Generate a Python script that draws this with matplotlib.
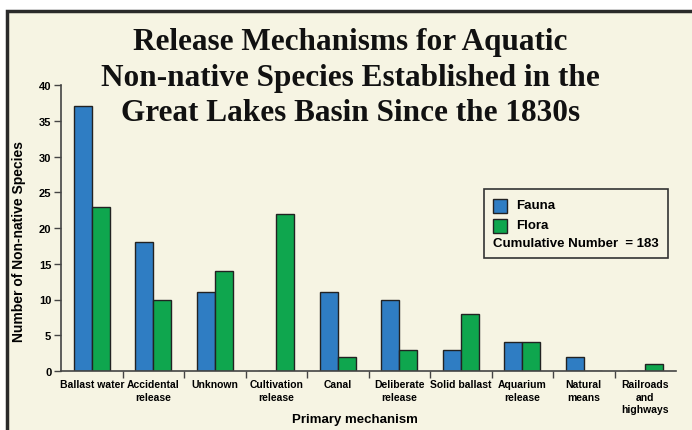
import numpy as np
import matplotlib.pyplot as plt
from matplotlib.patches import Rectangle
from matplotlib.offsetbox import (AnchoredOffsetbox, VPacker, HPacker,
                                  TextArea, DrawingArea)

categories = ["Ballast water", "Accidental\nrelease", "Unknown",
              "Cultivation\nrelease", "Canal", "Deliberate\nrelease",
              "Solid ballast", "Aquarium\nrelease", "Natural\nmeans",
              "Railroads\nand\nhighways"]
fauna = [37, 18, 11, 0, 11, 10, 3, 4, 2, 0]
flora = [23, 10, 14, 22, 2, 3, 8, 4, 0, 1]
yticks = [0, 5, 10, 15, 20, 25, 30, 35, 40]

blue = "#2f7dc3"
green = "#0fa64e"
cream = "#f6f4e3"
dark = "#222222"
sans = ["Liberation Sans", "DejaVu Sans"]

fig = plt.figure(figsize=(6.92, 4.31), dpi=100, facecolor="white")

# cream panel with dark frame on left and top
panel = Rectangle((7 / 692, -0.1), 1.2, 1 - 12 / 431 + 0.1,
                  transform=fig.transFigure, facecolor=cream,
                  edgecolor="#2a2a2a", linewidth=2.5, zorder=-10)
fig.patches.append(panel)

fig.text(0.506, 1 - 28 / 431,
         "Release Mechanisms for Aquatic\nNon-native Species Established in the\nGreat Lakes Basin Since the 1830s",
         ha="center", va="top", fontsize=22.5, fontweight="bold",
         family="Liberation Serif", linespacing=1.3, color="#111111")

ax = fig.add_axes([61 / 692, 1 - 372 / 431, 615 / 692, 286 / 431])
ax.set_facecolor("none")

x = np.arange(len(categories))
w = 0.29
ax.bar(x - w / 2, fauna, w, color=blue, edgecolor=dark, linewidth=1)
ax.bar(x + w / 2, flora, w, color=green, edgecolor=dark, linewidth=1)

ax.set_xlim(-0.5, len(categories) - 0.5)
ax.set_ylim(0, 40)
ax.set_yticks(yticks)
ax.set_yticklabels([str(t) for t in yticks], fontsize=8, fontweight="bold",
                   family=sans)
ax.set_xticks(x)
ax.set_xticklabels(categories, fontsize=7.5, fontweight="bold", family=sans,
                   linespacing=1.3, va="top")
ax.tick_params(axis="x", length=0, pad=6)
ax.set_xticks(x[1:] - 0.5, minor=True)
ax.tick_params(axis="x", which="minor", length=5, width=1, color="#444444")
ax.tick_params(axis="y", length=5, width=1, color="#444444", pad=2)

for s in ["top", "right"]:
    ax.spines[s].set_visible(False)
for s in ["left", "bottom"]:
    ax.spines[s].set_color("#444444")
    ax.spines[s].set_linewidth(1.2)

ax.set_ylabel("Number of Non-native Species", fontsize=10,
              fontweight="bold", family=sans)
ax.yaxis.set_label_coords(-(61 - 26) / 615, (372 - 241) / 286)
fig.text(355 / 692, 1 - 420 / 431, "Primary mechanism", ha="center",
         va="center", fontsize=9.5, fontweight="bold", family=sans)

# legend box
def legend_row(color, label):
    da = DrawingArea(11, 11, 0, 0)
    da.add_artist(Rectangle((0, 0), 10, 10, facecolor=color,
                            edgecolor=dark, linewidth=1))
    ta = TextArea(label, textprops=dict(fontsize=9.5, fontweight="bold",
                                        family=sans))
    return HPacker(children=[da, ta], align="center", pad=0, sep=6)

txt_total = TextArea("Cumulative Number  = 183",
                     textprops=dict(fontsize=9.5, fontweight="bold",
                                    family=sans))
box = VPacker(children=[legend_row(blue, "Fauna"), legend_row(green, "Flora"),
                        txt_total], align="left", pad=0, sep=3)
anchored = AnchoredOffsetbox(loc="upper left", child=box, pad=0.35,
                             borderpad=0, frameon=True,
                             bbox_to_anchor=((488 - 61) / 615,
                                             (372 - 194) / 286),
                             bbox_transform=ax.transAxes)
anchored.patch.set_facecolor(cream)
anchored.patch.set_edgecolor("#333333")
anchored.patch.set_linewidth(1.2)
anchored.patch.set_boxstyle("square")
ax.add_artist(anchored)

fig.savefig("out.png", dpi=100, facecolor="white")
